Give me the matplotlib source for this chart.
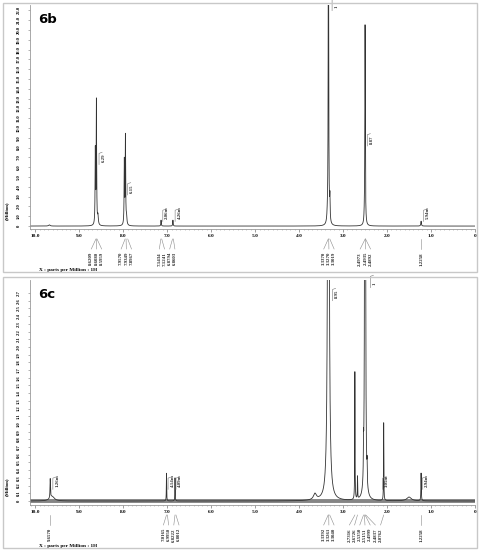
import numpy as np
import matplotlib
matplotlib.use('Agg')
import matplotlib.pyplot as plt
from matplotlib.patches import Rectangle
import matplotlib.transforms as mtransforms

# ---- 6b peaks (ppm, height in Million, half width) ----
b_ppm = [9.68, 8.635, 8.610, 8.575, 7.975, 7.950, 7.925, 7.140, 6.870, 3.360, 3.333, 3.300, 2.515, 2.500, 1.226]
b_height = [0.12, 7.5, 12.6, 0.9, 6.5, 9.0, 0.8, 0.6, 0.6, 0.4, 40.0, 2.3, 0.5, 20.4, 0.5]
b_width = [0.02, 0.006, 0.006, 0.01, 0.006, 0.006, 0.01, 0.006, 0.006, 0.01, 0.006, 0.006, 0.01, 0.006, 0.008]

# ---- 6c peaks (ppm, height in Million, half width) ----
c_ppm = [9.66, 9.62, 7.016, 6.822, 3.64, 3.334, 2.732, 2.672, 2.535, 2.500, 2.484, 2.455, 2.077, 1.50, 1.226]
c_height = [0.25, 0.06, 0.36, 0.30, 0.08, 15.0, 1.66, 0.29, 0.36, 20.0, 0.30, 0.23, 1.01, 0.05, 0.36]
c_width = [0.006, 0.06, 0.004, 0.004, 0.04, 0.012, 0.004, 0.004, 0.004, 0.006, 0.004, 0.004, 0.004, 0.06, 0.005]

# integration labels: (ppm, y, text)
b_integ = [(8.45, 6.5, '6.29'), (7.80, 3.4, '6.15'), (7.00, 0.7, '2.06m'), (6.72, 0.7, '4.26m'),
           (3.15, 22.2, '1'), (2.35, 8.4, '8.87'), (1.07, 0.7, '5.94m')]
c_integ = [(9.50, 0.18, '1.26m'), (6.88, 0.18, '4.14m'), (6.70, 0.18, '4.09m'),
           (3.14, 2.63, '8.95'), (2.28, 2.80, '1'), (2.00, 0.18, '3.05m'), (1.10, 0.18, '2.94m')]

# peak picks (groups)
b_picks = [['8.6209', '8.6080', '8.5959'], ['7.9570', '7.9349', '7.8967'],
           ['7.1434', '7.1241', '6.8794', '6.8603'], ['3.3370', '3.3270', '3.3019'],
           ['2.4973', '2.4935', '2.4892'], ['1.2258']]
c_picks = [['9.6570'], ['7.0165', '6.9950', '6.8222', '6.8012'], ['3.3392', '3.3261', '3.3040'],
           ['2.7316', '2.6726', '2.5350', '2.5151', '2.4999', '2.4837', '2.0762'], ['1.2258']]

x_ticks = [10, 9, 8, 7, 6, 5, 4, 3, 2, 1, 0]
x_labels = ['10.0', '9.0', '8.0', '7.0', '6.0', '5.0', '4.0', '3.0', '2.0', '1.0', '0']
b_yticks = list(range(0, 23))
c_yticks = [i / 10 for i in range(0, 28)]

W, H = 480, 550
PXPPM = 44.0
grid = np.linspace(10.2, -0.05, 24000)


def spectrum(ppm, height, width):
    y = np.zeros_like(grid)
    for p, h, w in zip(ppm, height, width):
        y += h * w ** 2 / ((grid - p) ** 2 + w ** 2)
    return y


fig = plt.figure(figsize=(4.8, 5.5), dpi=100)
fig.patch.set_facecolor('white')

# panel frames
for top, bot in [(3, 272), (277, 548)]:
    fig.patches.append(Rectangle((3 / W, 1 - bot / H), 474 / W, (bot - top) / H,
                                 transform=fig.transFigure, fill=False,
                                 edgecolor='#c8c8c8', lw=1.0))

serif = 'Liberation Serif'


def make_panel(axis_y, top_y, ylim, yticks, ytick_fmt, y, integ, picks, name, base_noise):
    ax = fig.add_axes([30 / W, 1 - axis_y / H, 445 / W, (axis_y - top_y) / H])
    hpx = axis_y - top_y
    ax.set_xlim(10.12, 0)
    ax.set_ylim(*ylim)
    if base_noise:
        ax.axhline(0.0, color='#444444', lw=2.8, alpha=0.65, zorder=1)
    ax.plot(grid, y, color='#333333', lw=0.6, zorder=2)
    for s in ['top', 'right']:
        ax.spines[s].set_visible(False)
    ax.spines['left'].set_color('#9a9a9a')
    ax.spines['bottom'].set_color('#9a9a9a')
    ax.spines['left'].set_linewidth(0.6)
    ax.spines['bottom'].set_linewidth(0.6)
    ax.set_xticks(x_ticks)
    ax.set_xticklabels(x_labels, fontsize=3.8, fontweight='bold', family=serif)
    ax.set_xticks(np.arange(0, 10.15, 0.1), minor=True)
    ax.tick_params(axis='x', which='major', length=2, width=0.5, color='#777777', pad=1.5)
    ax.tick_params(axis='x', which='minor', length=1, width=0.4, color='#999999')
    ax.set_yticks(yticks)
    ax.set_yticklabels([ytick_fmt(v) for v in yticks], fontsize=3.3, rotation=90,
                       va='center', family=serif, fontweight='bold')
    ax.tick_params(axis='y', length=1.5, width=0.4, color='#777777', pad=5)
    ax.set_facecolor('none')

    # integration labels
    for p, yy, t in integ:
        ax.text(p, yy, t, rotation=90, fontsize=3.5, family=serif, fontweight='bold',
                ha='center', va='bottom', color='#333333', clip_on=False)
        ax.plot([p + 0.1, p + 0.1, p + 0.03], [yy - (ylim[1] - ylim[0]) * 0.01,
                                               yy + (ylim[1] - ylim[0]) * 0.04,
                                               yy + (ylim[1] - ylim[0]) * 0.045],
                color='#777777', lw=0.4, clip_on=False)

    # peak picks below axis
    trans = mtransforms.blended_transform_factory(ax.transData, ax.transAxes)
    y_a = -10 / hpx
    y_b = -20 / hpx
    y_t = -23 / hpx
    step = 5.2 / PXPPM
    for group in picks:
        vals = [float(v) for v in group]
        centre = np.mean(vals)
        n = len(vals)
        for i, (v, s) in enumerate(zip(vals, group)):
            lx = centre + (n - 1) / 2 * step - i * step
            ax.plot([v, lx], [y_a, y_b], color='#8a8a8a', lw=0.4,
                    transform=trans, clip_on=False)
            ax.text(lx, y_t, s, rotation=90, fontsize=3.5, family=serif, fontweight='bold',
                    ha='center', va='top', transform=trans, color='#2a2a2a')

    ax.text(-0.052, 0.08, '(Million)', rotation=90, fontsize=3.5, family=serif,
            fontweight='bold', ha='center', va='center', transform=ax.transAxes)
    ax.text(0.02, -41 / hpx, 'X : parts per Million : 1H', fontsize=3.8, family=serif,
            fontweight='bold', ha='left', va='center', transform=ax.transAxes)
    ax.text(0.018, 0.965, name, fontsize=9.5, fontweight='bold', family='DejaVu Sans',
            ha='left', va='top', transform=ax.transAxes)
    return ax


yb = spectrum(b_ppm, b_height, b_width)
yc = spectrum(c_ppm, c_height, c_width)

make_panel(229, 5, (-0.3, 22.55), b_yticks, lambda v: '0' if v == 0 else '%.1f' % v,
           yb, b_integ, b_picks, '6b', False)
make_panel(505, 280, (-0.052, 2.87), c_yticks, lambda v: '0' if v == 0 else '%.1f' % v,
           yc, c_integ, c_picks, '6c', True)

fig.savefig('out.png', dpi=100, facecolor='white')
